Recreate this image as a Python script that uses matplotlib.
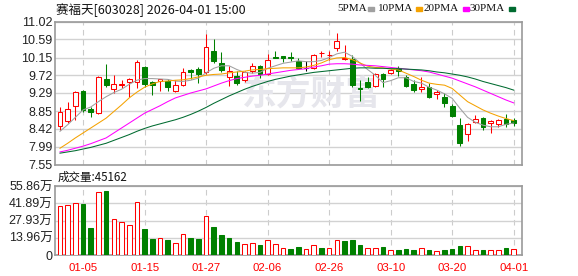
import numpy as np
import matplotlib.pyplot as plt
from matplotlib.patches import Rectangle

plt.rcParams['font.family'] = ['Liberation Sans', 'Noto Sans CJK SC']

# daily candles, 2025-12-29 .. 2026-04-01
opens = [8.50, 8.60, 8.97, 9.35, 8.91, 8.80, 9.63, 9.39, 9.49, 9.56,
         9.55, 9.92, 9.56, 9.57, 9.57, 9.33, 9.49, 9.86, 9.87, 9.79,
         10.32, 10.02, 9.68, 9.70, 9.60, 9.82, 9.94, 9.75, 10.16, 10.18,
         10.16, 10.07, 9.90, 9.90, 10.26, 10.20, 10.38, 10.12, 10.12, 9.40,
         9.56, 9.45, 9.75, 9.77, 9.90, 9.69, 9.51, 9.38, 9.44, 9.26,
         9.20, 8.97, 8.51, 8.30, 8.59, 8.68, 8.55, 8.53, 8.65, 8.64]
closes = [8.82, 8.90, 9.31, 8.88, 8.84, 9.69, 9.49, 9.50, 9.51, 9.63,
          10.04, 9.52, 9.49, 9.63, 9.43, 9.48, 9.80, 9.79, 9.76, 10.41,
          10.06, 9.86, 9.82, 9.53, 9.79, 9.94, 9.75, 10.10, 10.15, 10.14,
          10.14, 9.90, 9.90, 10.22, 10.27, 10.22, 10.54, 10.15, 9.49, 9.38,
          9.43, 9.75, 9.64, 9.84, 9.82, 9.46, 9.37, 9.44, 9.20, 9.31,
          9.04, 8.73, 8.07, 8.53, 8.66, 8.47, 8.61, 8.64, 8.53, 8.57]
highs = [8.94, 9.07, 9.34, 9.37, 8.94, 9.71, 10.00, 9.72, 9.61, 9.65,
         10.08, 9.95, 9.59, 9.64, 9.64, 9.61, 9.89, 9.88, 9.91, 10.72,
         10.60, 10.28, 9.94, 9.82, 9.82, 10.02, 9.96, 10.24, 10.30, 10.18,
         10.28, 10.15, 10.06, 10.24, 10.32, 10.32, 10.75, 10.46, 10.20, 9.60,
         9.69, 9.77, 9.77, 9.88, 9.94, 9.73, 9.60, 9.67, 9.53, 9.36,
         9.28, 9.02, 8.69, 8.55, 8.76, 8.70, 8.64, 8.65, 8.77, 8.69]
lows = [8.39, 8.55, 8.63, 8.84, 8.71, 8.78, 9.43, 9.29, 9.41, 9.19,
        9.41, 9.43, 9.25, 9.33, 9.35, 9.31, 9.45, 9.64, 9.53, 9.76,
        10.02, 9.80, 9.47, 9.49, 9.55, 9.78, 9.65, 9.72, 10.15, 10.03,
        10.06, 9.87, 9.82, 9.88, 10.17, 10.08, 10.30, 10.08, 9.43, 9.10,
        9.40, 9.43, 9.43, 9.75, 9.71, 9.43, 9.32, 9.31, 9.16, 9.14,
        8.96, 8.70, 8.01, 8.13, 8.57, 8.38, 8.31, 8.46, 8.46, 8.50]

ma5 = [8.36, 8.52, 8.70, 8.88, 8.95, 9.08, 9.20, 9.30, 9.38, 9.50,
       9.60, 9.64, 9.64, 9.63, 9.62, 9.58, 9.57, 9.60, 9.65, 9.78,
       9.89, 9.95, 9.95, 9.86, 9.79, 9.77, 9.79, 9.89, 9.95, 10.01,
       10.04, 10.07, 10.05, 10.05, 10.08, 10.15, 10.24, 10.28, 10.18, 10.02,
       9.86, 9.72, 9.54, 9.59, 9.66, 9.66, 9.57, 9.53, 9.43, 9.36,
       9.27, 9.16, 8.92, 8.70, 8.58, 8.51, 8.47, 8.47, 8.53, 8.56]
ma10 = [7.95, 8.07, 8.20, 8.32, 8.44, 8.56, 8.68, 8.84, 9.00, 9.17,
        9.31, 9.43, 9.51, 9.57, 9.58, 9.60, 9.61, 9.64, 9.68, 9.72,
        9.74, 9.75, 9.78, 9.80, 9.82, 9.85, 9.86, 9.88, 9.89, 9.90,
        9.90, 9.90, 9.92, 9.96, 10.02, 10.10, 10.14, 10.15, 10.10, 10.02,
        9.94, 9.91, 9.90, 9.87, 9.85, 9.77, 9.69, 9.60, 9.53, 9.50,
        9.48, 9.40, 9.24, 9.08, 8.98, 8.88, 8.80, 8.73, 8.67, 8.62]
ma20 = [7.86, 7.90, 7.95, 8.00, 8.06, 8.13, 8.20, 8.32, 8.44, 8.56,
        8.68, 8.80, 8.89, 8.98, 9.08, 9.17, 9.23, 9.29, 9.34, 9.39,
        9.46, 9.53, 9.59, 9.64, 9.67, 9.70, 9.72, 9.75, 9.78, 9.81,
        9.84, 9.86, 9.88, 9.92, 9.95, 9.99, 10.00, 10.00, 9.99, 9.97,
        9.96, 9.95, 9.93, 9.91, 9.89, 9.87, 9.85, 9.83, 9.80, 9.75,
        9.70, 9.65, 9.58, 9.51, 9.44, 9.36, 9.28, 9.20, 9.12, 9.05]
ma30 = [7.83, 7.86, 7.89, 7.93, 7.97, 8.02, 8.07, 8.14, 8.21, 8.28,
        8.36, 8.43, 8.49, 8.54, 8.59, 8.64, 8.70, 8.77, 8.85, 8.94,
        9.04, 9.13, 9.22, 9.30, 9.38, 9.45, 9.51, 9.57, 9.62, 9.66,
        9.70, 9.73, 9.76, 9.79, 9.81, 9.83, 9.85, 9.87, 9.89, 9.90,
        9.90, 9.89, 9.89, 9.88, 9.88, 9.87, 9.86, 9.85, 9.83, 9.80,
        9.78, 9.75, 9.72, 9.68, 9.63, 9.57, 9.52, 9.47, 9.42, 9.36]

# volume in 万 shares, and whether the bar is drawn red
volume = [39.7, 40.5, 41.8, 41.6, 21.6, 51.3, 51.8, 28.9, 26.4, 24.3,
          42.6, 21.0, 13.0, 13.5, 12.1, 9.5, 17.3, 13.5, 13.0, 31.6,
          22.7, 16.2, 13.8, 10.8, 8.9, 9.7, 8.1, 12.1, 8.9, 5.4,
          4.9, 6.5, 4.9, 7.8, 5.7, 5.7, 12.1, 11.3, 12.1, 8.1,
          5.7, 5.7, 6.3, 4.0, 4.0, 4.8, 4.0, 5.4, 4.0, 3.0,
          4.0, 4.8, 7.3, 7.0, 4.0, 4.0, 4.0, 4.0, 5.7, 4.52]
vol_up = [1, 1, 1, 0, 0, 1, 0, 1, 1, 1, 1, 0, 0, 1, 0, 1, 1, 0, 0, 1,
          0, 0, 0, 0, 1, 1, 0, 1, 1, 1, 0, 0, 1, 1, 0, 1, 1, 0, 0, 0,
          1, 1, 0, 1, 0, 0, 0, 1, 0, 1, 0, 0, 0, 1, 1, 0, 1, 1, 0, 1]

date_idx = [3, 11, 19, 27, 35, 43, 51, 59]
date_labels = ['01-05', '01-15', '01-27', '02-06', '02-26', '03-10', '03-20', '04-01']
price_ticks = [7.55, 7.99, 8.42, 8.85, 9.29, 9.72, 10.15, 10.59, 11.02]
vol_ticks = [0, 13.96, 27.93, 41.89, 55.86]
vol_labels = ['0', '13.96万', '27.93万', '41.89万', '55.86万']

RED = '#ff0000'
GREEN = '#008000'
W, H = 578, 276
LW = 0.75

o = np.array(opens)
c = np.array(closes)
x = np.arange(len(o))
col = np.where(c > o, RED, np.where(c < o, GREEN, '#000000'))
face = np.where(c > o, 'white', col)

fig = plt.figure(figsize=(W / 100, H / 100), dpi=100)
ax = fig.add_axes([55.3 / W, 1 - 164.7 / H, 466.7 / W, 143 / H])
axv = fig.add_axes([55.3 / W, 1 - 255 / H, 466.7 / W, 69 / H])

for a in (ax, axv):
    a.set_xlim(-0.61, 60.08)
    a.set_xticks(date_idx)
    a.grid(axis='y', color='#d2d2d2', lw=1, zorder=0)
    a.grid(axis='x', color='#cccccc', lw=0.8, ls=(0, (5, 4)), zorder=0)
    a.set_axisbelow(True)
    for s in a.spines.values():
        s.set_color('#9a9a9a')
        s.set_linewidth(1.2)
    a.tick_params(length=0, pad=2, labelsize=9, labelcolor='#222222')

# watermark
ax.text(0.548, 0.494, '东方财富', transform=ax.transAxes, ha='center', va='center',
        fontsize=25, fontweight='bold', color='#e6e6ec', family='Noto Sans CJK SC', zorder=1)

# price panel
ax.vlines(x, lows, highs, colors=col, lw=LW, zorder=2)
ax.bar(x, np.abs(c - o), bottom=np.minimum(o, c), width=0.62,
       facecolor=face, edgecolor=col, lw=LW, zorder=3)
ax.plot(x, ma5, color='#a0a0a0', lw=LW, zorder=4)
ax.plot(x, ma10, color='#f5a200', lw=LW, zorder=4)
ax.plot(x, ma20, color='#ff00ff', lw=LW, zorder=4)
ax.plot(x, ma30, color='#006b30', lw=LW, zorder=4)
ax.set_ylim(7.55, 11.02)
ax.set_yticks(price_ticks)
ax.set_yticklabels([f'{t:.2f}' for t in price_ticks])
ax.set_xticklabels([])

# volume panel
vup = np.array(vol_up) == 1
vcol = np.where(vup, RED, GREEN)
axv.bar(x, volume, width=0.6, facecolor=np.where(vup, 'white', GREEN),
        edgecolor=vcol, lw=LW, zorder=3)
axv.set_ylim(0, 55.86)
axv.set_yticks(vol_ticks)
axv.set_yticklabels(vol_labels)
axv.set_xticklabels(date_labels, color=RED, fontsize=8.2)
axv.tick_params(axis='x', pad=6)

# header texts
fig.text(56 / W, 1 - 10 / H, '赛福天[603028] 2026-04-01 15:00', va='center', ha='left',
         fontsize=9, family=['Noto Sans CJK SC', 'DejaVu Sans'], color='#111111')
fig.text(58 / W, 1 - 177 / H, '成交量:45162', va='center', ha='left',
         fontsize=8.3, family=['Noto Sans CJK SC', 'DejaVu Sans'], color='#111111')

legend_items = [('5PMA', '#a0a0a0', 337, 368), ('10PMA', '#f5a200', 378, 416),
                ('20PMA', '#ff00ff', 424, 463), ('30PMA', '#006b30', 470, 509)]
for name, color, tx, sx in legend_items:
    fig.text(tx / W, 1 - 8.7 / H, name, va='center', ha='left', fontsize=8,
             family='Liberation Serif', color='#111111')
    fig.add_artist(Rectangle((sx / W, 1 - 10.5 / H), 6 / W, 3.5 / H,
                             transform=fig.transFigure, color=color))

fig.savefig('out.png', dpi=100)
